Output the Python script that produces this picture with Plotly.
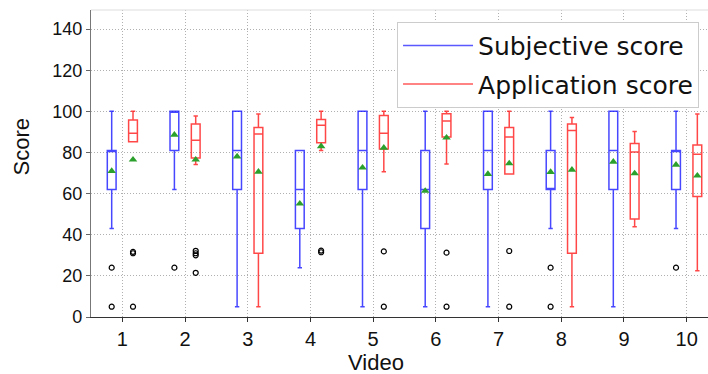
import plotly.graph_objects as go

videos = [1, 2, 3, 4, 5, 6, 7, 8, 9, 10]

# Subjective score stats
subj_upper = [100, 100, 100, 81, 100, 100, 100, 100, 100, 100]
subj_q3 = [81, 100, 100, 81, 100, 81, 100, 81, 100, 81]
subj_median = [81, 100, 81, 62, 81, 62, 81, 62, 81, 81]
subj_q1 = [62, 81, 62, 43, 62, 43, 62, 62, 62, 62]
subj_lower = [43, 62, 5, 24, 5, 5, 5, 43, 5, 43]
subj_mean = [71, 88.6, 78, 55.1, 72.6, 61.3, 69.5, 70.5, 75.5, 74]
subj_out_video = [1, 1, 2, 8, 8, 10]
subj_out_value = [24, 5, 24, 24, 5, 24]

# Application score stats
app_upper = [100, 97.7, 98.7, 100, 100, 100, 100, 97, 90.2, 98.7]
app_q3 = [95.8, 93.8, 92.2, 96, 98, 98.8, 92.2, 93.8, 84.4, 83.6]
app_median = [89.4, 85.9, 89, 93.3, 89.4, 95.3, 87.5, 90.7, 80.2, 79.2]
app_q1 = [85.2, 77.3, 31, 84.7, 81.7, 87.5, 69.5, 31, 47.6, 58.6]
app_lower = [85.2, 74.2, 5, 81, 70.6, 74.4, 69.5, 5, 43.9, 22.5]
app_mean = [76.5, 76.5, 70.6, 83, 82.3, 87.2, 74.7, 71.6, 69.8, 68.7]
app_out_video = [1, 1, 1, 2, 2, 2, 2, 4, 4, 5, 5, 6, 6, 7, 7]
app_out_value = [31, 31.7, 5, 32.2, 31, 30, 21.5, 31.5, 32.3, 31.9, 5, 31.3, 5, 32.1, 5]

y_ticks = [0, 20, 40, 60, 80, 100, 120, 140]

BLUE = "rgba(0,0,255,0.72)"
RED = "rgba(255,0,0,0.72)"
OFF = 0.17

fig = go.Figure()

def add_boxes(offset, color, upper, q3, med, q1, lower):
    fig.add_trace(go.Box(
        x=[v + offset for v in videos],
        q1=q1, median=med, q3=q3, lowerfence=lower, upperfence=upper,
        width=0.14, whiskerwidth=0.5, boxpoints=False,
        line=dict(color=color, width=1.5), fillcolor="rgba(0,0,0,0)",
        showlegend=False, hoverinfo="skip"))

add_boxes(-OFF, BLUE, subj_upper, subj_q3, subj_median, subj_q1, subj_lower)
add_boxes(OFF, RED, app_upper, app_q3, app_median, app_q1, app_lower)

# means
fig.add_trace(go.Scatter(x=[v - OFF for v in videos], y=subj_mean, mode="markers",
                         marker=dict(symbol="triangle-up", color="#2ca02c", size=7.5),
                         showlegend=False))
fig.add_trace(go.Scatter(x=[v + OFF for v in videos], y=app_mean, mode="markers",
                         marker=dict(symbol="triangle-up", color="#2ca02c", size=7.5),
                         showlegend=False))
# outliers
fig.add_trace(go.Scatter(x=[v - OFF for v in subj_out_video], y=subj_out_value, mode="markers",
                         marker=dict(symbol="circle-open", color="black", size=5, line=dict(width=1.2)),
                         showlegend=False))
fig.add_trace(go.Scatter(x=[v + OFF for v in app_out_video], y=app_out_value, mode="markers",
                         marker=dict(symbol="circle-open", color="black", size=5, line=dict(width=1.2)),
                         showlegend=False))

# legend entries
fig.add_trace(go.Scatter(x=[None], y=[None], mode="lines", name="Subjective score",
                         line=dict(color="rgba(60,60,255,0.85)", width=1.5), legendgroup="a"))
fig.add_trace(go.Scatter(x=[None], y=[None], mode="lines", name="Application score",
                         line=dict(color="rgba(255,60,60,0.85)", width=1.5), legendgroup="b"))

fig.update_layout(
    width=708, height=374,
    margin=dict(l=91, r=0, t=10, b=57),
    paper_bgcolor="white", plot_bgcolor="white",
    font=dict(family="Liberation Sans, Arial, sans-serif", color="#111"),
    legend=dict(x=0.496, y=0.962, xanchor="left", yanchor="top",
                font=dict(family="DejaVu Sans", size=25, color="#111"),
                bordercolor="#cccccc", borderwidth=1, bgcolor="white",
                tracegroupgap=3, itemwidth=70),
    xaxis=dict(range=[0.5, 10.34], tickvals=videos, ticktext=[str(v) for v in videos],
               tickfont=dict(size=20), ticks="outside", ticklen=4, tickcolor="#333",
               showline=True, linecolor="#333", linewidth=1.2,
               showgrid=True, gridcolor="#b0b0b0", griddash="1px,2px", gridwidth=1,
               zeroline=False),
    yaxis=dict(range=[0, 149.3], tickvals=y_ticks, tickfont=dict(size=18),
               ticks="outside", ticklen=4, tickcolor="#666",
               showline=True, linecolor="#777", linewidth=1.2,
               showgrid=True, gridcolor="#b0b0b0", griddash="1px,2px", gridwidth=1,
               zeroline=False),
    annotations=[
        dict(text="Video", xref="paper", yref="paper", x=0.462, y=-0.147,
             xanchor="center", yanchor="middle", showarrow=False, font=dict(size=22)),
        dict(text="Score", xref="paper", yref="paper", x=-0.112, y=0.555,
             xanchor="center", yanchor="middle", textangle=-90, showarrow=False,
             font=dict(size=22)),
    ],
    shapes=[dict(type="line", xref="paper", yref="paper", x0=0, x1=1, y0=1, y1=1,
                 line=dict(color="#dddddd", width=1))],
)

fig.write_html("out.html")
